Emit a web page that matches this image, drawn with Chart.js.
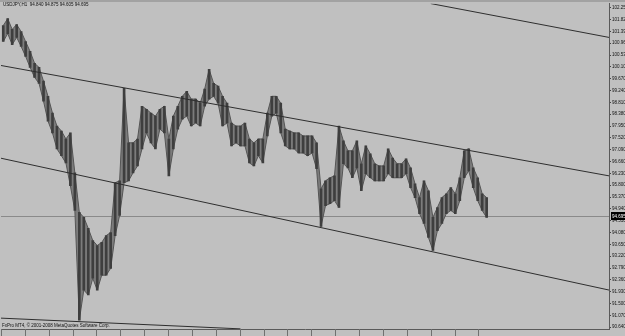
<!DOCTYPE html>
<html>
<head>
<meta charset="utf-8">
<script src="https://cdn.jsdelivr.net/npm/chart.js@4.4.1/dist/chart.umd.min.js"></script>
<style>
  html, body { margin: 0; padding: 0; background: #c0c0c0; }
  #wrap { width: 625px; height: 336px; }
</style>
</head>
<body>
<div id="wrap"><canvas id="chart" width="625" height="336"></canvas></div>
<script>
// USDJPY H1, 20 Oct - 25 Nov 2008. One high/low sample every 6 hourly bars.
const symbolTitle = 'USDJPY,H1  94.840 94.875 94.605 94.695';
const copyrightText = 'FxPro MT4, \u00a9 2001-2008 MetaQuotes Software Corp.';
const firstBar = 3;
const barStep = 6;

const highs = [
    101.60, 101.85, 101.46, 101.64, 101.38, 101.02, 100.66, 100.23, 100.08, 99.58,
    99.03, 98.42, 97.95, 97.77, 97.48, 97.70, 96.25, 94.81, 94.63, 94.23,
    93.79, 93.61, 93.72, 93.97, 94.08, 95.89, 95.96, 99.32, 97.34, 97.34,
    97.48, 98.67, 98.56, 98.42, 98.31, 98.56, 98.67, 97.48, 98.31, 98.67,
    99.03, 99.21, 98.93, 98.93, 98.78, 99.29, 100.01, 99.50, 99.40, 99.03,
    98.78, 98.06, 97.95, 97.95, 98.06, 97.48, 97.34, 97.48, 97.48, 98.42,
    99.03, 99.03, 98.78, 97.84, 97.77, 97.70, 97.70, 97.59, 97.59, 97.59,
    97.34, 95.67, 95.96, 96.07, 96.14, 97.95, 97.41, 97.05, 97.05, 97.41,
    96.58, 97.23, 96.94, 96.58, 96.50, 96.50, 97.12, 96.79, 96.58, 96.58,
    96.76, 96.43, 95.85, 95.35, 95.96, 95.60, 94.63, 94.99, 95.35, 95.49,
    95.71, 95.49, 96.07, 97.05, 97.12, 96.43, 96.07, 95.49, 95.35
];
const lows = [
    101.02, 101.31, 100.91, 101.17, 100.84, 100.48, 100.08, 99.72, 99.50, 98.85,
    98.13, 97.70, 97.12, 96.87, 96.61, 95.78, 94.88, 90.90, 91.99, 91.81,
    92.42, 91.99, 92.53, 92.53, 92.78, 93.97, 94.70, 95.89, 95.96, 96.25,
    96.50, 97.12, 97.70, 97.34, 97.12, 97.84, 97.70, 96.14, 97.12, 97.84,
    98.20, 98.31, 97.95, 98.06, 97.95, 98.67, 98.93, 99.03, 98.78, 97.95,
    98.06, 97.23, 97.34, 97.23, 97.23, 96.61, 96.50, 96.87, 96.61, 97.59,
    98.31, 98.42, 97.70, 97.23, 97.12, 97.12, 96.97, 96.97, 96.87, 96.97,
    96.40, 94.30, 95.06, 95.13, 95.24, 94.99, 96.58, 96.43, 96.07, 96.43,
    95.60, 96.22, 96.07, 95.96, 95.96, 95.96, 96.22, 96.07, 96.07, 96.07,
    96.22, 95.71, 95.35, 94.77, 94.41, 93.90, 93.43, 94.15, 94.41, 94.77,
    94.88, 94.77, 95.24, 96.07, 96.32, 95.71, 95.24, 94.88, 94.63
];

const timeLabels = [
    '20 Oct 2008', '21 Oct 13:00', '22 Oct 21:00', '24 Oct 05:00', '27 Oct 13:00',
    '28 Oct 21:00', '30 Oct 04:00', '31 Oct 12:00', '3 Nov 19:00', '5 Nov 03:00',
    '6 Nov 11:00', '7 Nov 19:00', '11 Nov 02:00', '12 Nov 10:00', '13 Nov 18:00',
    '17 Nov 01:00', '18 Nov 09:00', '19 Nov 17:00', '21 Nov 01:00', '24 Nov 09:00',
    '25 Nov 16:00'
];
const labelBars = [0, 32, 64, 96, 128, 160, 192, 224, 256, 288, 320, 352, 384, 416, 448, 480, 512, 544, 576, 608, 640];

const priceTicks = [
    102.25, 101.82, 101.39, 100.96, 100.53, 100.10, 99.67, 99.24, 98.81, 98.38,
    97.95, 97.52, 97.09, 96.66, 96.23, 95.80, 95.37, 94.94, 94.51, 94.08,
    93.65, 93.22, 92.79, 92.36, 91.93, 91.50, 91.07, 90.64
];
const lastPrice = 94.695;

// trend lines drawn by hand on the chart, as [bar, price] end points
const channelTop = [[576, 102.40], [815, 101.17]];
const channelMid = [[0, 100.15], [815, 96.14]];
const channelLow = [[0, 96.78], [815, 91.99]];
const supportLine = [[0, 90.97], [321, 90.58]];

const tickFont = { family: "'Liberation Sans Narrow', 'Liberation Sans', sans-serif", size: 4.5 };

const barX = (i) => firstBar + i * barStep;
const barData = highs.map((h, i) => ({ x: barX(i), y: [lows[i], h] }));
const highLine = highs.map((h, i) => ({ x: barX(i), y: h }));
const lowLine = lows.map((l, i) => ({ x: barX(i), y: l }));
const toPoints = (line) => line.map(p => ({ x: p[0], y: p[1] }));

const trendDataset = (line) => ({
    type: 'line',
    data: toPoints(line),
    borderColor: '#2e2e2e',
    borderWidth: 1,
    pointRadius: 0,
    fill: false,
    order: 0,
});

// ======== MT4 style frame, bid line and texts ========
const mtFrame = {
    id: 'mtFrame',
    beforeDraw(chart) {
        const ctx = chart.ctx;
        const area = chart.chartArea;
        ctx.save();
        ctx.fillStyle = '#c0c0c0';
        ctx.fillRect(0, 0, chart.width, chart.height);
        ctx.fillStyle = '#a2a2a2';
        ctx.fillRect(0, 0, chart.width, 2);

        const y = Math.round(chart.scales.y.getPixelForValue(lastPrice)) + 0.5;
        ctx.strokeStyle = '#8a8a8a';
        ctx.lineWidth = 1;
        ctx.beginPath();
        ctx.moveTo(area.left, y);
        ctx.lineTo(area.right, y);
        ctx.stroke();
        ctx.restore();
    },
    afterDraw(chart) {
        const ctx = chart.ctx;
        const area = chart.chartArea;
        const xScale = chart.scales.x;
        ctx.save();

        // separators in front of each time label
        ctx.strokeStyle = '#707070';
        ctx.lineWidth = 1;
        labelBars.forEach(b => {
            const x = Math.round(xScale.getPixelForValue(b)) + 0.5;
            ctx.beginPath();
            ctx.moveTo(x, area.bottom);
            ctx.lineTo(x, chart.height);
            ctx.stroke();
        });

        ctx.fillStyle = '#111';
        ctx.font = "4.5px 'Liberation Sans Narrow', 'Liberation Sans', sans-serif";
        ctx.textBaseline = 'middle';
        ctx.textAlign = 'left';
        ctx.fillText(symbolTitle, 3, 5);
        ctx.fillText(copyrightText, 2, area.bottom - 3);

        // bid price box on the price scale
        const y = Math.round(chart.scales.y.getPixelForValue(lastPrice));
        ctx.fillStyle = '#000';
        ctx.fillRect(area.right + 2, y - 4, chart.width - area.right - 2, 8);
        ctx.fillStyle = '#fff';
        ctx.fillText(lastPrice.toFixed(3), area.right + 3, y + 0.5);
        ctx.restore();
    }
};

new Chart(document.getElementById('chart').getContext('2d'), {
    type: 'bar',
    data: {
        datasets: [
            {
                // upper edge of the price band
                type: 'line',
                data: highLine,
                borderColor: '#555555',
                borderWidth: 1,
                pointRadius: 0,
                tension: 0,
                fill: false,
                order: 2,
            },
            {
                // lower edge, filled up to the highs
                type: 'line',
                data: lowLine,
                borderColor: '#555555',
                borderWidth: 1,
                pointRadius: 0,
                tension: 0,
                fill: 0,
                backgroundColor: '#7c7c7c',
                order: 2,
            },
            {
                type: 'bar',
                data: barData,
                backgroundColor: '#3e3e3e',
                borderWidth: 0,
                barThickness: 2,
                grouped: false,
                order: 1,
            },
            trendDataset(channelTop),
            trendDataset(channelMid),
            trendDataset(channelLow),
            trendDataset(supportLine),
        ],
    },
    options: {
        responsive: false,
        animation: false,
        devicePixelRatio: 1,
        layout: { padding: { top: 2, left: 0, right: 0, bottom: 0 } },
        plugins: {
            legend: { display: false },
            tooltip: { enabled: false },
        },
        scales: {
            x: {
                type: 'linear',
                min: 0,
                max: 815,
                offset: false,
                grid: { display: false },
                border: { display: true, color: '#5a5a5a' },
                afterFit: (scale) => { scale.height = 7; },
                afterBuildTicks: (scale) => { scale.ticks = labelBars.map(v => ({ value: v })); },
                ticks: {
                    autoSkip: false,
                    maxRotation: 0,
                    align: 'start',
                    labelOffset: 2,
                    padding: 1,
                    color: '#111',
                    font: tickFont,
                    callback: (value, index) => timeLabels[index],
                },
            },
            y: {
                position: 'right',
                min: 90.575,
                max: 102.395,
                grid: { drawOnChartArea: false, drawTicks: true, tickLength: 2, color: '#444' },
                border: { display: true, color: '#5a5a5a' },
                afterFit: (scale) => { scale.width = 16; },
                afterBuildTicks: (scale) => { scale.ticks = priceTicks.map(v => ({ value: v })); },
                ticks: {
                    padding: 1,
                    color: '#111',
                    font: tickFont,
                    callback: (value) => value.toFixed(3),
                },
            },
        },
    },
    plugins: [mtFrame],
});
</script>
</body>
</html>
